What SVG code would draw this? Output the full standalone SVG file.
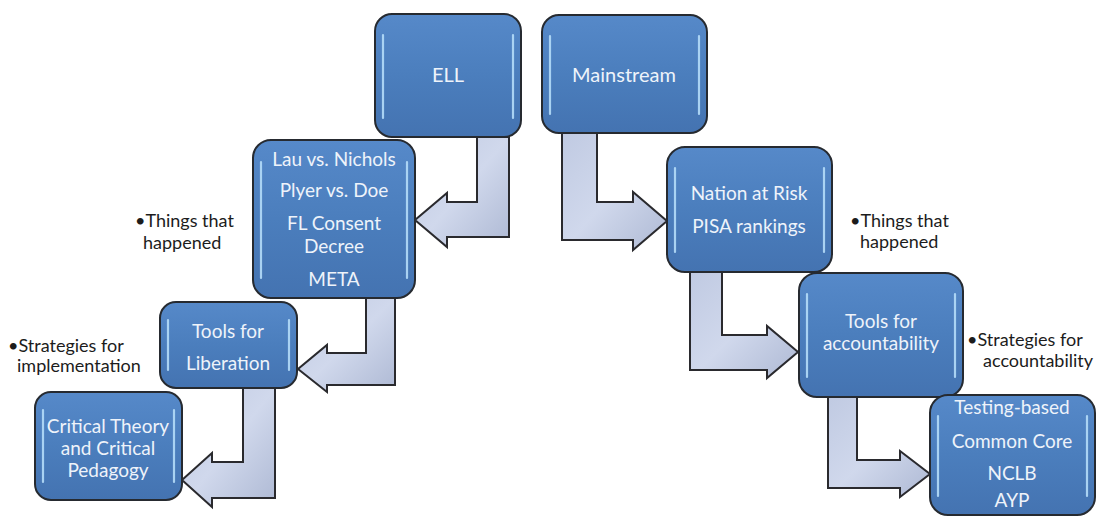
<svg xmlns="http://www.w3.org/2000/svg" width="1097" height="518" viewBox="0 0 1097 518">
<defs>
<style>
.box{fill:url(#boxg);stroke:#262a30;stroke-width:2}
.gl{fill:none;stroke:#b4dcf8;stroke-width:2.2;stroke-linecap:round;opacity:0.9}
.arr{fill:url(#arrg);stroke:#2a2a2e;stroke-width:2;stroke-linejoin:miter}
.t{font-family:Lato,"Liberation Sans",sans-serif;font-size:19px;fill:#eef3fa;text-anchor:middle}
.lb{font-family:Lato,"Liberation Sans",sans-serif;font-size:18px;fill:#1c1c1c}
</style>
<linearGradient id="boxg" x1="0" y1="0" x2="0" y2="1">
<stop offset="0" stop-color="#5689c9"/>
<stop offset="0.5" stop-color="#4b7ebd"/>
<stop offset="1" stop-color="#4473b1"/>
</linearGradient>
<linearGradient id="arrg" x1="0" y1="0" x2="1" y2="1">
<stop offset="0" stop-color="#c0cae2"/>
<stop offset="0.5" stop-color="#d0d8ec"/>
<stop offset="1" stop-color="#aeb9d4"/>
</linearGradient>
</defs>
<rect width="1097" height="518" fill="#ffffff"/>
<g id="connectors">
<polygon class="arr" points="477,137 509,137 509,237 447,237 447,247 415,220 447,193 447,202 477,202"/>
<polygon class="arr" points="562,133 597,133 597,202 633,202 633,192 667,221 633,250 633,240 562,240"/>
<polygon class="arr" points="366,298 395,298 395,385 327,385 327,392 298,369 327,345 327,353 366,353"/>
<polygon class="arr" points="243,388 275,388 275,498 212,498 212,507 182,480 212,453 212,462 243,462"/>
<polygon class="arr" points="690,272 722,272 722,335 767,335 767,326 798,352 767,378 767,370 690,370"/>
<polygon class="arr" points="828,397 857,397 857,460 900,460 900,451 930,474 900,497 900,488 828,488"/>
</g>
<g id="ell">
<rect class="box" x="375" y="14" width="146" height="123" rx="17"/>
<path class="gl" d="M383,35 V118 M513,35 V118"/>
<text class="t" x="448" y="82" style="font-size:20px">ELL</text>
</g>
<g id="mainstream">
<rect class="box" x="542" y="15" width="165" height="118" rx="17"/>
<path class="gl" d="M550,36 V114 M699,36 V114"/>
<text class="t" x="624" y="82" style="font-size:20px">Mainstream</text>
</g>
<g id="things-ell">
<rect class="box" x="253" y="140" width="162" height="158" rx="18"/>
<path class="gl" d="M261,162 V278 M407,162 V278"/>
<text class="t" x="334" y="166">Lau vs. Nichols</text>
<text class="t" x="334" y="197">Plyer vs. Doe</text>
<text class="t" x="334" y="230">FL Consent</text>
<text class="t" x="334" y="253">Decree</text>
<text class="t" x="334" y="286">META</text>
</g>
<g id="tools-liberation">
<rect class="box" x="160" y="302" width="137" height="86" rx="16"/>
<path class="gl" d="M168,320 V370 M289,320 V370"/>
<text class="t" x="228" y="338">Tools for</text>
<text class="t" x="228" y="370">Liberation</text>
</g>
<g id="critical">
<rect class="box" x="35" y="392" width="147" height="108" rx="16"/>
<path class="gl" d="M43,410 V482 M174,410 V482"/>
<text class="t" x="108" y="433">Critical Theory</text>
<text class="t" x="108" y="455">and Critical</text>
<text class="t" x="108" y="477">Pedagogy</text>
</g>
<g id="things-main">
<rect class="box" x="667" y="147" width="165" height="125" rx="18"/>
<path class="gl" d="M675,168 V252 M824,168 V252"/>
<text class="t" x="749" y="200">Nation at Risk</text>
<text class="t" x="749" y="233">PISA rankings</text>
</g>
<g id="tools-accountability">
<rect class="box" x="799" y="273" width="164" height="124" rx="18"/>
<path class="gl" d="M807,294 V377 M955,294 V377"/>
<text class="t" x="881" y="328">Tools for</text>
<text class="t" x="881" y="350">accountability</text>
</g>
<g id="strategies-main">
<rect class="box" x="930" y="395" width="165" height="120" rx="18"/>
<path class="gl" d="M938,416 V496 M1087,416 V496"/>
<text class="t" x="1012" y="414">Testing-based</text>
<text class="t" x="1012" y="448">Common Core</text>
<text class="t" x="1012" y="480">NCLB</text>
<text class="t" x="1012" y="507">AYP</text>
</g>
<g id="labels">
<text class="lb" x="135" y="227">•Things that</text>
<text class="lb" x="143" y="249">happened</text>
<text class="lb" x="850" y="227">•Things that</text>
<text class="lb" x="860" y="248">happened</text>
<text class="lb" x="8" y="352">•Strategies for</text>
<text class="lb" x="17" y="372">implementation</text>
<text class="lb" x="967" y="346">•Strategies for</text>
<text class="lb" x="983" y="367">accountability</text>
</g>
</svg>
